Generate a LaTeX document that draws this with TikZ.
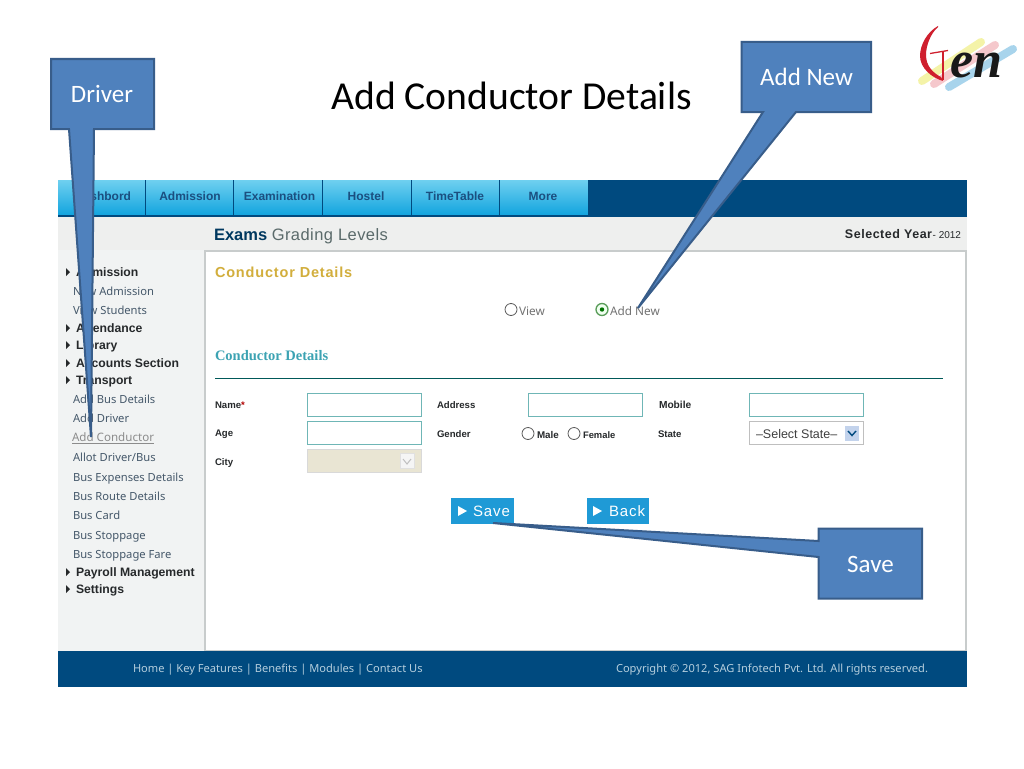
\documentclass[tikz,border=0pt]{standalone}
\usepackage{fontspec}
\setmainfont{Liberation Sans}
\newfontfamily\carl{Carlito}
\newfontfamily\notos{Noto Sans}
\newfontfamily\lserif{Liberation Serif}
\newcommand{\fs}[1]{\fontsize{#1}{#1}\selectfont}
\newcommand{\lsp}[1]{\addfontfeature{LetterSpace=#1}}
\definecolor{navy}{HTML}{004A7F}
\definecolor{navtop}{HTML}{6FD0F0}
\definecolor{navbot}{HTML}{12A4DE}
\definecolor{navtxt}{HTML}{1B4F80}
\definecolor{strip}{HTML}{EEEFEE}
\definecolor{side}{HTML}{F1F3F3}
\definecolor{panel}{HTML}{C8CCCC}
\definecolor{cfill}{HTML}{4F81BD}
\definecolor{cline}{HTML}{385D8A}
\definecolor{sidetxt}{HTML}{45586A}
\definecolor{boldtxt}{HTML}{26292B}
\definecolor{inbox}{HTML}{6FB6B6}
\definecolor{btn}{HTML}{1F9AD6}
\definecolor{foot}{HTML}{B5CEDD}
\definecolor{gold}{HTML}{D2AE3C}
\definecolor{tealtxt}{HTML}{3CA3B3}
\definecolor{greytxt}{HTML}{5A6A6A}
\definecolor{beige}{HTML}{E9E5D3}
\definecolor{selbtn}{HTML}{C3D3EC}
\definecolor{chalky}{HTML}{F4F3A8}
\definecolor{chalkp}{HTML}{F5C8CC}
\definecolor{chalkb}{HTML}{A8D4EC}
\definecolor{logored}{HTML}{CF1F2E}
\tikzset{
  x=1pt,y=-1pt,
  every node/.style={inner sep=0pt,outer sep=0pt},
  callout/.style={draw=cline,line width=2pt,fill=cfill,line join=miter},
  calltext/.style={text=white,font=\carl\fs{25}},
  navitem/.style={text=navtxt,font=\bfseries\fs{12}},
  sideitem/.style={anchor=west,text=sidetxt,font=\notos\fs{11.2},text height=10pt,text depth=1pt},
  sidehead/.style={anchor=west,text=boldtxt,font=\bfseries\fs{12.2},text height=10pt,text depth=1pt},
  formlabel/.style={anchor=west,text=boldtxt,font=\bfseries\fs{9.6},text height=9pt,text depth=1pt},
  inputbox/.style={draw=inbox,line width=1pt,fill=white,minimum width=114pt,minimum height=23pt,anchor=north west},
  radio/.style={circle,draw=black!65,line width=.8pt,fill=white,minimum size=12pt},
  sep/.style={draw=navy,line width=1pt},
  btnbox/.style={fill=btn,anchor=north west,minimum height=25.5pt},
  btntext/.style={anchor=west,text=white,font=\fs{15}\lsp{6}},
  foottext/.style={anchor=west,text=foot,font=\notos\fs{11.1}},
  optext/.style={anchor=west,text=black!55,font=\notos\fs{11.8}}
}
\begin{document}
\begin{tikzpicture}
\useasboundingbox (0,0) rectangle (1024,768);
\fill[white] (0,0) rectangle (1024,768);
% web page
\shade[top color=navtop,bottom color=navbot] (58,180) rectangle (588,215);
\fill[navy] (58,215) rectangle (588,217);
\fill[navy] (588,180) rectangle (967,217);
\fill[strip] (58,217) rectangle (967,250);
\fill[side] (58,250) rectangle (205,651);
\draw[panel,line width=1.5pt,fill=white] (205,251) rectangle (966,651);
\fill[navy] (58,651) rectangle (967,687);
\foreach \px in {145,233,322,411,499}{\draw[sep] (\px,180) -- (\px,216);}
\node[navitem] (n1) at (103,196) {Dashbord};
\node[navitem] (n2) at (190,196) {Admission};
\node[navitem] (n3) at (279.5,196) {Examination};
\node[navitem] (n4) at (366,196) {Hostel};
\node[navitem] (n5) at (455,196) {TimeTable};
\node[navitem] (n6) at (543,196) {More};
\node[anchor=west,font=\fs{16.5},text=greytxt,text height=13pt,text depth=3pt] (pg) at (214,235) {\textcolor{navy!75!black}{\bfseries Exams} {\lsp{2.6}Grading Levels}};
\node[anchor=east,font=\bfseries\fs{12.5},text=boldtxt] (yr) at (961,234) {{\lsp{4.3}Selected Year}\textmd{\fs{10}- 2012}};
\node[anchor=west,font=\bfseries\fs{14.5}\lsp{5.7},text=gold] (cd1) at (215,272) {Conductor Details};
\node[radio] (rv) at (511,309.5) {};
\node[optext] (tv) at (519,311) {View};
\node[radio,minimum size=12pt,line width=1.3pt,draw=green!40!black!65,fill=green!6] (ra) at (602,309.5) {};
\fill[green!45!black] (ra) circle (2.2);
\node[optext] (ta) at (610,311) {Add New};
\node[anchor=west,font=\lserif\bfseries\fs{14.5},text=tealtxt] (cd2) at (215,356) {Conductor Details};
\coordinate (ruleL) at (215,378.5);
\coordinate (ruleR) at (943,378.5);
\draw[teal!70!black,line width=1pt] (ruleL) -- (ruleR);
% form
\node[formlabel] (l1) at (215,404) {Name\textcolor{red!70!black}{*}};
\node[formlabel] (l2) at (215,432) {Age};
\node[formlabel] (l3) at (215,461) {City};
\node[inputbox] (i1) at (307,393) {};
\node[inputbox] (i2) at (307,421) {};
\node[inputbox,draw=black!15,fill=beige] (i3) at (307,449) {};
\node[draw=black!12,fill=black!4,minimum width=14pt,minimum height=15pt] (i3b) at (407,461) {};
\draw[black!25,line width=1pt] (403,459) -- (407,464) -- (411,459);
\node[formlabel] (l4) at (437,404) {Address};
\node[formlabel] (l5) at (437,433) {Gender};
\node[inputbox] (i4) at (528.5,393) {};
\node[radio] (r1) at (528,433.5) {};
\node[formlabel,font=\bfseries\fs{9.8}] (l6) at (537,434) {Male};
\node[radio] (r2) at (574,433.5) {};
\node[formlabel,font=\bfseries\fs{9.4}] (l7) at (583,434) {Female};
\node[formlabel,font=\bfseries\fs{10.2}] (l8) at (659,404) {Mobile};
\node[formlabel] (l9) at (658,433) {State};
\node[inputbox] (i5) at (749,393) {};
\node[inputbox,draw=black!25,line width=.6pt] (i6) at (749,421) {};
\node[anchor=west,font=\fs{12.5},text=black!75] (st) at (756,434) {--Select State--};
\node[fill=selbtn,minimum width=14pt,minimum height=15pt] (stb) at (852,433) {};
\draw[navy,line width=1.4pt] (848,431) -- (852,435.5) -- (856,431);
% buttons
\node[btnbox,minimum width=63pt] (b1) at (451,498) {};
\fill[white] (458,506) -- (467,511) -- (458,516) -- cycle;
\node[btntext] (b1t) at (473,511) {Save};
\node[btnbox,minimum width=62pt] (b2) at (587,498) {};
\fill[white] (593,506) -- (602,511) -- (593,516) -- cycle;
\node[btntext] (b2t) at (609,511) {Back};
% sidebar
\foreach \nm/\yy/\tx in {h1/272/Admission,h2/328/Attendance,h3/345/Library,h4/363/Accounts Section,h5/380/Transport,h6/572/Payroll Management,h7/589/Settings}{
  \node[sidehead] (\nm) at (76,\yy) {\tx};
  \fill[boldtxt] (66,\yy-4) -- (70,\yy) -- (66,\yy+4) -- cycle;
}
\foreach \nm/\yy/\tx in {s1/291/New Admission,s2/310/View Students,s3/399/Add Bus Details,s4/418/Add Driver,s6/457/Allot Driver{/}Bus,s7/477/Bus Expenses Details,s8/496/Bus Route Details,s9/515/Bus Card,s10/535/Bus Stoppage,s11/554/Bus Stoppage Fare}{
  \node[sideitem] (\nm) at (73,\yy) {\tx};
}
\node[sideitem,text=black!45,font=\notos\fs{11.6}] (s5) at (72,437) {\underline{Add Conductor}};
% footer
\node[foottext] (f1) at (133,670) {Home | Key Features | Benefits | Modules | Contact Us};
\node[foottext] (f2) at (616,670) {Copyright © 2012, SAG Infotech Pvt. Ltd. All rights reserved.};
% title
\node[font=\carl\fs{39.6},text=black] (title) at (511.5,96) {Add Conductor Details};
% callouts
\coordinate (dNW) at (51,59); \coordinate (dNE) at (154,59); \coordinate (dSE) at (154,129); \coordinate (dSW) at (51,129);
\coordinate (dA) at (69,129); \coordinate (dB) at (94,129); \coordinate (dTip) at (91,437);
\draw[callout] (dNW) -- (dNE) -- (dSE) -- (dB) -- (dTip) -- (dA) -- (dSW) -- cycle;
\node[calltext] (driver) at (102,94) {Driver};
\coordinate (aNW) at (741.5,42); \coordinate (aNE) at (871,42); \coordinate (aSE) at (871,112); \coordinate (aSW) at (741.5,112);
\coordinate (aA) at (763,112); \coordinate (aB) at (796,112); \coordinate (aTip) at (638,308);
\draw[callout] (aNW) -- (aNE) -- (aSE) -- (aB) -- (aTip) -- (aA) -- (aSW) -- cycle;
\node[calltext] (addnew) at (806.5,77) {Add New};
\coordinate (cNW) at (818.5,528.5); \coordinate (cNE) at (922,528.5); \coordinate (cSE) at (922,598.5); \coordinate (cSW) at (818.5,598.5);
\coordinate (cA) at (818.5,541); \coordinate (cB) at (818.5,557); \coordinate (cTip) at (493,523);
\draw[callout] (cNW) -- (cNE) -- (cSE) -- (cSW) -- (cB) -- (cTip) -- (cA) -- cycle;
\node[calltext] (savelbl) at (870.5,564) {Save};
% logo
\draw[line width=8pt,line cap=round,chalky] (922,81) -- (981,42);
\draw[line width=8pt,line cap=round,chalkp] (934,84) -- (995,45);
\draw[line width=8pt,line cap=round,chalkb] (949,87) -- (1013,49);
\fill[logored] (938,26) .. controls (927,32) and (920,45) .. (920,56) .. controls (920,68) and (932,78) .. (943,81) -- (941,77) .. controls (933,73) and (926,66) .. (926,55) .. controls (926,45) and (931,33) .. (938,27) -- cycle;
\draw[logored,line width=1.3pt] (930,53.5) -- (948,50.5);
\draw[logored,line width=2.6pt] (943,52) -- (943,80);
\node[font=\lserif\bfseries\itshape\fs{52},text=black!90] (logo) at (976.5,66) {en};
\end{tikzpicture}
\end{document}
